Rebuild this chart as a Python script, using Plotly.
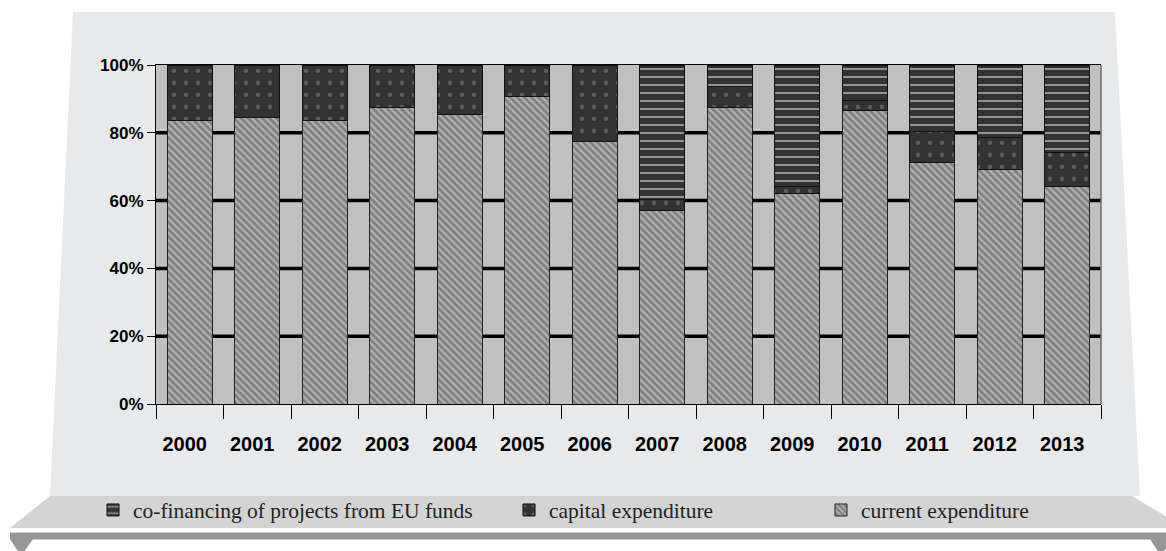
import plotly.graph_objects as go

# ---- data (percent shares) ----
years = ["2000", "2001", "2002", "2003", "2004", "2005", "2006",
         "2007", "2008", "2009", "2010", "2011", "2012", "2013"]
current_exp = [83.5, 84.5, 83.5, 87.5, 85.5, 90.7, 77.4,
               57.0, 87.5, 62.2, 86.5, 71.2, 69.2, 64.1]
capital_exp = [16.5, 15.5, 16.5, 12.5, 14.5, 9.3, 22.6,
               3.2, 6.1, 2.1, 3.0, 9.3, 9.5, 10.1]
cofin_eu = [0, 0, 0, 0, 0, 0, 0,
            39.8, 6.4, 35.7, 10.5, 19.5, 21.3, 25.8]
y_ticks = [0, 20, 40, 60, 80, 100]
y_tick_labels = ["0%", "20%", "40%", "60%", "80%", "100%"]
y_grid = [20, 40, 60, 80]

names = ["current expenditure", "capital expenditure",
         "co-financing of projects from EU funds"]

W, H = 1166, 551
L, R, T, B = 156, 1101, 65, 404   # plot area in pixels


def px(x):
    return (x - L) / (R - L)


def py(y):
    return (B - y) / (B - T)


fig = go.Figure()

fig.add_trace(go.Bar(
    x=years, y=current_exp, name=names[0], legend="legend3",
    marker=dict(color="#808080", line=dict(color="#222222", width=1),
                pattern=dict(shape="\\", fgcolor="#e4e4e4", bgcolor="#808080",
                             size=5, solidity=0.45)),
))
fig.add_trace(go.Bar(
    x=years, y=capital_exp, name=names[1], legend="legend2",
    marker=dict(color="#333333", line=dict(color="#111111", width=1),
                pattern=dict(shape=".", fgcolor="#8a8a8a", bgcolor="#333333",
                             size=12, solidity=0.1)),
))
fig.add_trace(go.Bar(
    x=years, y=cofin_eu, name=names[2], legend="legend",
    marker=dict(color="#333333", line=dict(color="#111111", width=1),
                pattern=dict(shape="-", fgcolor="#f2f2f2", bgcolor="#333333",
                             size=8, solidity=0.25)),
))

shapes = []
# light panel (trapezoid)
shapes.append(dict(type="path", xref="paper", yref="paper", layer="below",
                   path=f"M{px(73)},{py(12)} L{px(1115)},{py(12)} L{px(1140)},{py(496)} "
                        f"L{px(50)},{py(496)} Z",
                   fillcolor="#e8e9eb", line=dict(width=0)))
# legend band
shapes.append(dict(type="path", xref="paper", yref="paper", layer="below",
                   path=f"M{px(50)},{py(496)} L{px(1132)},{py(496)} L{px(1185)},{py(528)} "
                        f"L{px(10)},{py(528)} Z",
                   fillcolor="#d4d4d4", line=dict(width=0)))
# dark band
shapes.append(dict(type="path", xref="paper", yref="paper", layer="below",
                   path=f"M{px(10)},{py(532.5)} L{px(1175)},{py(532.5)} L{px(1175)},{py(539.5)} "
                        f"L{px(10)},{py(539.5)} Z",
                   fillcolor="#969696", line=dict(width=0)))
# triangles
shapes.append(dict(type="path", xref="paper", yref="paper", layer="below",
                   path=f"M{px(10)},{py(539)} L{px(33)},{py(539)} L{px(21)},{py(556)} Z",
                   fillcolor="#969696", line=dict(width=0)))
shapes.append(dict(type="path", xref="paper", yref="paper", layer="below",
                   path=f"M{px(1150)},{py(539)} L{px(1172)},{py(539)} L{px(1161)},{py(556)} Z",
                   fillcolor="#969696", line=dict(width=0)))
# plot area background
shapes.append(dict(type="rect", xref="paper", yref="paper", layer="below",
                   x0=0, x1=1, y0=0, y1=1, fillcolor="#c0c0c0", line=dict(width=0)))
# gridlines
for g in y_grid:
    shapes.append(dict(type="line", xref="paper", yref="y", layer="below",
                       x0=0, x1=1, y0=g, y1=g, line=dict(color="#000000", width=3.5)))
# right border
shapes.append(dict(type="line", xref="paper", yref="paper", layer="above",
                   x0=1, x1=1, y0=0, y1=1, line=dict(color="#6e6e6e", width=1.5)))

legend_common = dict(orientation="h", xanchor="left", yanchor="middle",
                     bgcolor="rgba(0,0,0,0)", borderwidth=0,
                     font=dict(family="Liberation Serif, Times New Roman, serif",
                               size=21.5, color="#222222"))

fig.update_layout(
    width=W, height=H,
    margin=dict(l=L, r=W - R, t=T, b=H - B, pad=0),
    paper_bgcolor="#ffffff",
    plot_bgcolor="rgba(0,0,0,0)",
    barmode="stack",
    bargap=0.34,
    shapes=shapes,
    showlegend=True,
    legend=dict(x=px(93), y=py(510), **legend_common),
    legend2=dict(x=px(509), y=py(510), **legend_common),
    legend3=dict(x=px(821), y=py(510), **legend_common),
    xaxis=dict(
        type="category", tickson="boundaries", ticks="outside", ticklen=14,
        tickcolor="#000000", tickwidth=1, showline=True, linecolor="#000000",
        linewidth=1, mirror=True, showgrid=False, ticklabelstandoff=22,
        ticklabelshift=-5,
        tickfont=dict(family="Liberation Sans, Arial, sans-serif", size=20,
                      color="#000000", weight="bold"),
    ),
    yaxis=dict(
        range=[0, 100], tickmode="array", tickvals=y_ticks, ticktext=y_tick_labels,
        ticks="outside",
        ticklen=8, tickcolor="#000000", tickwidth=1, showline=True,
        linecolor="#000000", linewidth=1, showgrid=False, zeroline=False,
        tickfont=dict(family="Liberation Sans, Arial, sans-serif", size=17,
                      color="#000000", weight="bold"),
    ),
)

fig.write_html("out.html", config={"displayModeBar": False},
               post_script="document.body.style.margin='0px';document.body.style.overflow='hidden';")
